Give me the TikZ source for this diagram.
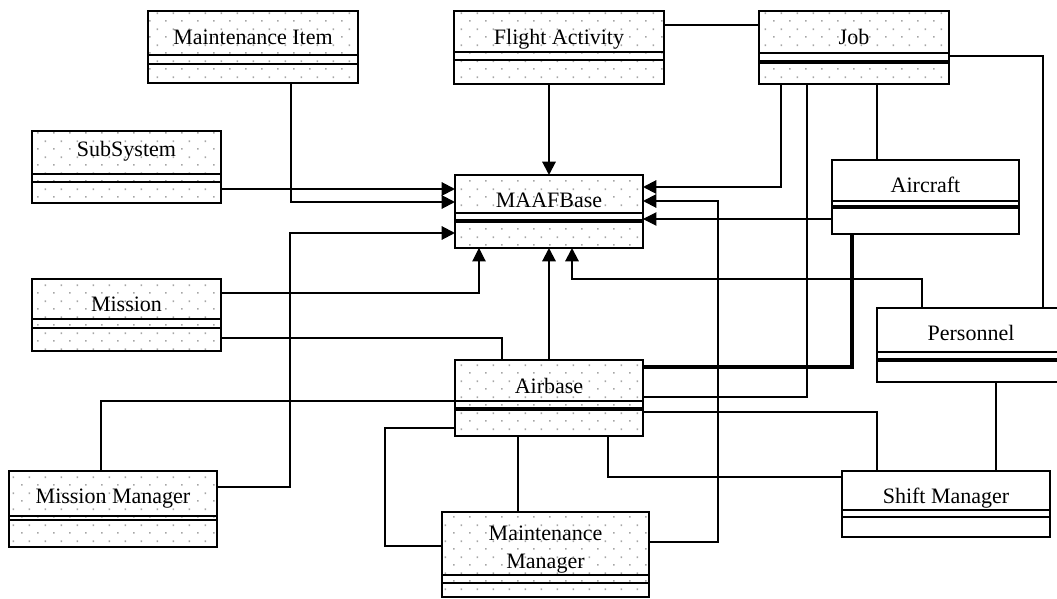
\documentclass[tikz,border=0pt]{standalone}
\usepackage{fontspec}
\setmainfont{Liberation Serif}
\usepackage{tikz}
\usetikzlibrary{arrows.meta,patterns}
\pgfdeclarepatternformonly{classdots}{\pgfpointorigin}{\pgfqpoint{12pt}{12pt}}{\pgfqpoint{12pt}{12pt}}{
    \pgfpathrectangle{\pgfqpoint{4pt}{1pt}}{\pgfqpoint{1.3pt}{1.3pt}}
    \pgfpathrectangle{\pgfqpoint{10pt}{7pt}}{\pgfqpoint{1.3pt}{1.3pt}}
    \pgfusepath{fill}}
\tikzset{
    classbox/.style = {
        draw,
        shape=rectangle,
        inner sep=0pt,
        outer sep=0pt,
        line width=1.5pt
    },
    dotbox/.style = {
        classbox,
        pattern=classdots,
        pattern color=black!35
    },
    classname/.style = {
        anchor=base,
        inner sep=0pt,
        align=center,
        font=\fontsize{16.5}{21}\selectfont
    },
    divider/.style = {line width=1.3pt},
    boldline/.style = {line width=2.3pt},
    thinline/.style = {line width=0.8pt},
    >={Triangle[length=10pt,width=10pt]},
}
\begin{document}
\begin{tikzpicture}[x=0.75pt, y=-0.75pt, line width=1.5pt]
                \useasboundingbox (0,0) rectangle (1057,599);
                \clip (0,0) rectangle (1057,599);

                \node[dotbox, minimum width=157.5pt, minimum height=54pt] (mitem) at (253,47) {};
                \node[dotbox, minimum width=157.5pt, minimum height=54.75pt] (flight) at (559,47.5) {};
                \node[dotbox, minimum width=142.5pt, minimum height=54.75pt] (job) at (854,47.5) {};
                \node[dotbox, minimum width=141.75pt, minimum height=54pt] (subsys) at (126.5,167) {};
                \node[dotbox, minimum width=141pt, minimum height=54.75pt] (maaf) at (549,211.5) {};
                \node[classbox, minimum width=140.25pt, minimum height=55.5pt] (aircraft) at (925.5,197) {};
                \node[dotbox, minimum width=141.75pt, minimum height=54pt] (mission) at (126.5,315) {};
                \node[classbox, minimum width=144.75pt, minimum height=55.5pt] (personnel) at (973.5,345) {};
                \node[dotbox, minimum width=141pt, minimum height=57pt] (airbase) at (549,398) {};
                \node[dotbox, minimum width=156pt, minimum height=57pt] (mmgr) at (113,509) {};
                \node[classbox, minimum width=156pt, minimum height=49.5pt] (shift) at (946,504) {};
                \node[dotbox, minimum width=155.25pt, minimum height=63.75pt] (maintmgr) at (545.5,554.5) {};

                \node[classname] (mitem-name) at (mitem |- 0,45) {Maintenance Item};
                \node[classname] (flight-name) at (flight |- 0,45) {Flight Activity};
                \node[classname] (job-name) at (job |- 0,45) {Job};
                \node[classname] (subsys-name) at (subsys |- 0,157) {SubSystem};
                \node[classname] (maaf-name) at (maaf |- 0,208) {MAAFBase};
                \node[classname] (aircraft-name) at (aircraft |- 0,193) {Aircraft};
                \node[classname] (mission-name) at (mission |- 0,311) {Mission};
                \node[classname] (personnel-name) at (971,340) {Personnel};
                \node[classname] (airbase-name) at (airbase |- 0,393) {Airbase};
                \node[classname] (mmgr-name) at (mmgr |- 0,503) {Mission Manager};
                \node[classname] (shift-name) at (shift |- 0,503) {Shift Manager};
                \node[classname] (maintmgr-name) at (maintmgr |- 0,568) {Maintenance\\Manager};

                % compartments
                \path[draw, divider] (mitem.west |- 0,55) -- (mitem.east |- 0,55);
                \path[draw, divider] (mitem.west |- 0,64) -- (mitem.east |- 0,64);
                \path[draw, thinline] (flight.west |- 0,52) -- (flight.east |- 0,52);
                \path[draw, thinline] (flight.west |- 0,60) -- (flight.east |- 0,60);
                \path[draw, divider] (job.west |- 0,53) -- (job.east |- 0,53);
                \path[draw, boldline] (job.west |- 0,62) -- (job.east |- 0,62);
                \path[draw, thinline] (subsys.west |- 0,174) -- (subsys.east |- 0,174);
                \path[draw, divider] (subsys.west |- 0,182) -- (subsys.east |- 0,182);
                \path[draw, divider] (maaf.west |- 0,213) -- (maaf.east |- 0,213);
                \path[draw, boldline] (maaf.west |- 0,221) -- (maaf.east |- 0,221);
                \path[draw, divider] (aircraft.west |- 0,201) -- (aircraft.east |- 0,201);
                \path[draw, boldline] (aircraft.west |- 0,207) -- (aircraft.east |- 0,207);
                \path[draw, thinline] (mission.west |- 0,319) -- (mission.east |- 0,319);
                \path[draw, divider] (mission.west |- 0,328) -- (mission.east |- 0,328);
                \path[draw, divider] (personnel.west |- 0,352) -- (personnel.east |- 0,352);
                \path[draw, boldline] (personnel.west |- 0,360) -- (personnel.east |- 0,360);
                \path[draw, divider] (airbase.west |- 0,401) -- (airbase.east |- 0,401);
                \path[draw, boldline] (airbase.west |- 0,409) -- (airbase.east |- 0,409);
                \path[draw, divider] (mmgr.west |- 0,516) -- (mmgr.east |- 0,516);
                \path[draw, divider] (mmgr.west |- 0,520) -- (mmgr.east |- 0,520);
                \path[draw, divider] (shift.west |- 0,510) -- (shift.east |- 0,510);
                \path[draw, divider] (shift.west |- 0,517) -- (shift.east |- 0,517);
                \path[draw, divider] (maintmgr.west |- 0,575) -- (maintmgr.east |- 0,575);
                \path[draw, divider] (maintmgr.west |- 0,583) -- (maintmgr.east |- 0,583);

                % into MAAFBase
                \path[draw, ->] (subsys.east |- 0,189) -- (maaf.west |- 0,189);
                \path[draw, ->] (mitem.south -| 291,0) |- (maaf.west |- 0,202);
                \path[draw, ->] (mmgr.east |- 0,487) -| (290,233) -- (maaf.west |- 0,233);
                \path[draw, ->] (flight.south -| maaf.north) -- (maaf.north);
                \path[draw, ->] (job.south -| 781,0) |- (maaf.east |- 0,187);
                \path[draw, ->] (maintmgr.east |- 0,542) -| (718,201) -- (maaf.east |- 0,201);
                \path[draw, thinline, ->] (aircraft.west |- 0,219) -- (maaf.east |- 0,219);
                \path[draw, thinline, ->] (mission.east |- 0,293) -| (maaf.south -| 479,0);
                \path[draw, ->] (airbase.north) -- (maaf.south);
                \path[draw, ->] (personnel.north -| 922,0) |- (572,279) -- (maaf.south -| 572,0);

                % other links
                \path[draw] (flight.east |- 0,25) -- (job.west |- 0,25);
                \path[draw] (job.east |- 0,56) -| (personnel.north -| 1043,0);
                \path[draw] (job.south -| 877,0) -- (aircraft.north -| 877,0);
                \path[draw] (job.south -| 807,0) |- (airbase.east |- 0,397);
                \path[draw, boldline] (aircraft.south -| 852,0) |- (airbase.east |- 0,367);
                \path[draw] (mission.east |- 0,338) -| (airbase.north -| 502,0);
                \path[draw] (mmgr.north -| 101,0) |- (airbase.west |- 0,401);
                \path[draw] (airbase.east |- 0,412) -| (shift.north -| 877,0);
                \path[draw] (airbase.south -| 608,0) |- (shift.west |- 0,477);
                \path[draw] (personnel.south -| 996,0) -- (shift.north -| 996,0);
                \path[draw] (airbase.south -| 518,0) -- (maintmgr.north -| 518,0);
                \path[draw] (airbase.west |- 0,428) -| (385,546) -- (maintmgr.west |- 0,546);
            \end{tikzpicture}
\end{document}
